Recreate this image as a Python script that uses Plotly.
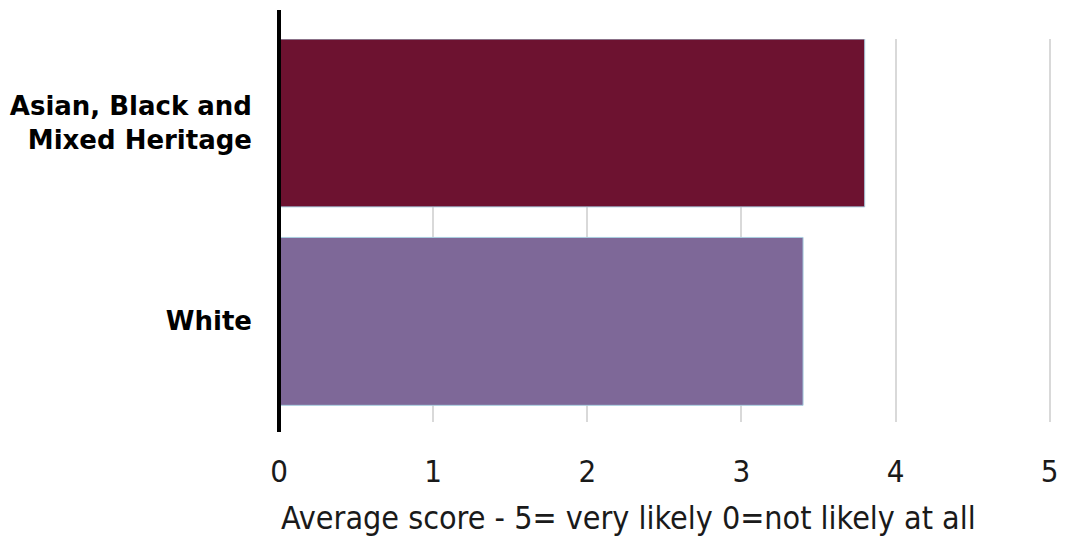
import plotly.graph_objects as go

categories = ["White", "Asian, Black and<br>Mixed Heritage"]
values = [3.4, 3.8]
bar_colors = ["#7e6898", "#6d1230"]
tick_vals = [0, 1, 2, 3, 4, 5]
tick_text = ["0", "1", "2", "3", "4", "5"]
x_title = "Average score - 5= very likely 0=not likely at all"

fig = go.Figure()
fig.add_trace(go.Bar(
    y=categories, x=values, orientation="h",
    marker=dict(color=bar_colors, line=dict(color="#a9cfe0", width=1)),
    width=0.846, hoverinfo="x+y",
))

# page body has an 8px margin, so the figure is sized to fit the 1065x541 window
fig.update_layout(
    width=1057, height=533,
    margin=dict(l=271, r=13, t=31, b=119, autoexpand=False),
    paper_bgcolor="white", plot_bgcolor="white",
    showlegend=False,
    xaxis=dict(
        range=[0, 5.015], tickvals=tick_vals, ticktext=tick_text,
        showgrid=True, gridcolor="#d9d9d9", gridwidth=1.5,
        zeroline=False, showline=False, automargin=False,
        ticks="", ticklabelstandoff=28,
        tickfont=dict(family="DejaVu Sans Condensed", size=31, color="#1a1a1a"),
    ),
    yaxis=dict(
        type="category", range=[-0.507, 1.423],
        showgrid=False, zeroline=False, showline=False, automargin=False,
        ticks="", ticklabelstandoff=26,
        tickfont=dict(family="DejaVu Sans", size=26, color="#000000", weight="bold"),
    ),
    annotations=[dict(
        text=x_title, xref="paper", yref="paper", x=0, y=-0.195,
        xanchor="left", yanchor="top", showarrow=False,
        font=dict(family="DejaVu Sans Condensed", size=32, color="#1a1a1a"),
    )],
    shapes=[dict(
        type="line", xref="paper", yref="paper", x0=0, x1=0, y0=-0.026, y1=1.0757,
        line=dict(color="black", width=4),
    )],
)

fig.write_html("out.html")
